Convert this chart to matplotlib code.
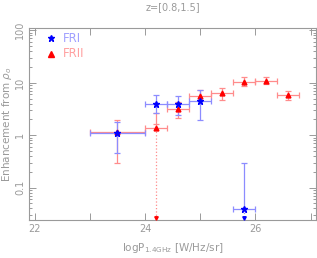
import matplotlib
matplotlib.use('Agg')
import matplotlib.pyplot as plt
import numpy as np

# binned enhancement vs radio power, z=[0.8,1.5]
fri_x = [23.5, 24.2, 24.6, 25.0, 25.8]
fri_xlo = [23.0, 24.0, 24.4, 24.8, 25.6]
fri_xhi = [24.0, 24.4, 24.8, 25.2, 26.0]
fri_y = [1.10, 3.85, 3.95, 4.5, 0.039]
fri_ylo = [0.45, 2.6, 2.4, 1.93, None]     # None -> upper limit, dotted to axis
fri_yhi = [1.75, 5.8, 5.6, 7.4, 0.30]

frii_x = [23.5, 24.2, 24.6, 25.0, 25.4, 25.8, 26.2, 26.6]
frii_xlo = [23.0, 24.0, 24.4, 24.8, 25.2, 25.6, 26.0, 26.4]
frii_xhi = [24.0, 24.4, 24.8, 25.2, 25.6, 26.0, 26.4, 26.8]
frii_y = [1.13, 1.36, 3.1, 5.7, 6.3, 10.5, 11.0, 5.85]
frii_ylo = [0.30, None, 2.17, 4.5, 4.6, 8.8, 9.4, 4.6]
frii_yhi = [1.93, 2.6, 4.2, 7.2, 7.95, 12.6, 12.9, 7.0]

XLIM = (21.9, 27.1)
YLIM = (0.024, 110)
GREY = '#9a9a9a'

plt.rcParams['font.family'] = ['DejaVu Sans']

fig = plt.figure(figsize=(3.17, 2.58), dpi=100)
ax = fig.add_axes([0.092, 0.147, 0.905, 0.744])
ax.set_yscale('log')


def draw(x, xlo, xhi, y, ylo, yhi, ecol, mcol, marker, ms):
    x, y = np.asarray(x), np.asarray(y)
    xerr = [x - np.asarray(xlo), np.asarray(xhi) - x]
    lo = np.array([y[i] - ylo[i] if ylo[i] is not None else 0.0 for i in range(len(y))])
    hi = np.asarray(yhi) - y
    ax.errorbar(x, y, xerr=xerr, yerr=[lo, hi], fmt='none', ecolor=ecol,
                elinewidth=0.9, capsize=2.2, capthick=0.9, zorder=2)
    for i in range(len(y)):
        if ylo[i] is None:
            ax.plot([x[i], x[i]], [y[i], YLIM[0] * 1.08], ls=':', color=ecol, lw=0.9, zorder=2)
            ax.plot([x[i]], [YLIM[0] * 1.1], marker='v', color=mcol, ms=2.5, zorder=3)
    ax.plot(x, y, ls='none', marker=marker, color=mcol, ms=ms, zorder=4)


draw(frii_x, frii_xlo, frii_xhi, frii_y, frii_ylo, frii_yhi, '#ff8c8c', 'red', '^', 3.5)
draw(fri_x, fri_xlo, fri_xhi, fri_y, fri_ylo, fri_yhi, '#8c8cff', 'blue', '*', 4.5)
# extra short cap just above the second FRII point
ax.plot([24.2], [1.6], marker='_', color='#ff8c8c', ms=4.5, mew=0.9, zorder=2)

ax.set_xlim(*XLIM)
ax.set_ylim(*YLIM)
ax.set_xticks([22, 24, 26])
ax.set_xticks([23, 25, 27], minor=True)
ax.set_yticks([0.1, 1, 10, 100])
ax.set_yticklabels(['0.1', '1', '10', '100'], rotation=90, va='center')
ax.tick_params(which='both', direction='in', top=True, right=True,
               color=GREY, labelcolor=GREY, labelsize=7, width=0.7)
ax.tick_params(which='major', length=5)
ax.tick_params(axis='x', which='major', pad=3)
ax.tick_params(axis='y', which='major', pad=3)
ax.tick_params(axis='y', which='minor', length=2.5)
ax.tick_params(axis='x', which='minor', length=5)
for s in ax.spines.values():
    s.set_color(GREY)
    s.set_linewidth(0.8)

ax.set_xlabel(r'logP$_{\rm 1.4GHz}$ [W/Hz/sr]', color=GREY, fontsize=7.5, labelpad=5)
ax.set_ylabel(r'Enhancement from $\rho_o$', color=GREY, fontsize=7.5, labelpad=1)
ax.set_title('z=[0.8,1.5]', color=GREY, fontsize=7, pad=13)

# legend drawn by hand
ax.plot([22.3], [70], marker='*', color='blue', ms=4.5, ls='none')
ax.text(22.52, 70, 'FRI', color='#a0a0ff', fontsize=8.5, va='center')
ax.plot([22.3], [36], marker='^', color='red', ms=4, ls='none')
ax.text(22.52, 36, 'FRII', color='#ffa0a0', fontsize=8.5, va='center')

fig.savefig('out.png', dpi=100)
